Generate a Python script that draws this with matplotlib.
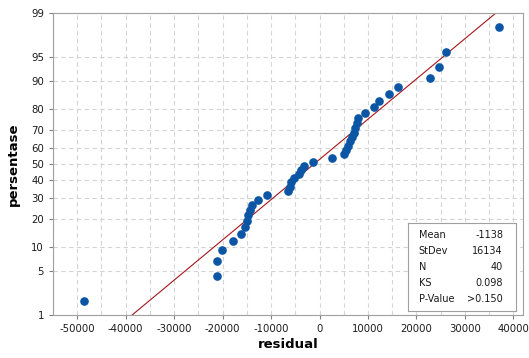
from statistics import NormalDist
import numpy as np
import matplotlib
matplotlib.use("Agg")
import matplotlib.pyplot as plt

plt.rcParams["axes.unicode_minus"] = False

# residuals (sorted)
residual = [-48570, -21200, -21150, -20140, -17760, -16270, -15370, -15040,
            -14690, -14350, -13980, -12650, -10820, -6530, -6180, -5860,
            -5310, -4290, -3820, -3120, -1430, 2650, 5040, 5370,
            5920, 6390, 6730, 7080, 7410, 7760, 7960, 9450,
            11160, 12350, 14350, 16270, 22860, 24760, 26120, 37000]

# plotting positions in percent
persen = [1.733, 4.208, 6.683, 9.158, 11.634, 14.109, 16.584, 19.059,
          21.535, 24.010, 26.485, 28.960, 31.436, 33.911, 36.386, 38.861,
          41.337, 43.812, 46.287, 48.762, 51.238, 53.713, 56.188, 58.663,
          61.139, 63.614, 66.089, 68.564, 71.040, 73.515, 75.990, 78.465,
          80.941, 83.416, 85.891, 88.366, 90.842, 93.317, 95.792, 98.267]

mean = -1138
stdev = 16134
n = 40
ks = 0.098
pval = ">0.150"

y_ticks = [1, 5, 10, 20, 30, 40, 50, 60, 70, 80, 90, 95, 99]
x_ticks = [-50000, -40000, -30000, -20000, -10000, 0, 10000, 20000, 30000, 40000]

nd = NormalDist()
def z(p):
    return nd.inv_cdf(p / 100.0)

fig = plt.figure(figsize=(5.29, 3.58), dpi=100)
ax = fig.add_axes([0.1002, 0.1201, 0.8885, 0.8436])

# fitted line
pl = np.array([1, 99])
xl = [mean + stdev * z(p) for p in pl]
ax.plot(xl, [z(p) for p in pl], color="#a4161a", lw=0.8, zorder=2)

ax.plot(residual, [z(p) for p in persen], "o", color="#0a56a5", ms=5.2,
        mec="#0a56a5", zorder=3)

ax.set_xlim(-54000, 42000)
ax.set_ylim(z(1), z(99))
ax.set_yticks([z(p) for p in y_ticks])
ax.set_yticklabels([str(p) for p in y_ticks])
ax.set_xticks(x_ticks)
ax.set_xticks(np.arange(-55000, 45000, 5000), minor=True)
ax.tick_params(axis="x", which="minor", length=0)

ax.grid(True, which="both", color="#d4d4d4", ls=(0, (4, 3)), lw=0.8)
ax.set_axisbelow(True)
for s in ax.spines.values():
    s.set_color("#a0a0a0")
ax.tick_params(which="major", color="#808080", length=3, labelsize=7.3, labelcolor="#1a1a1a")

ax.set_xlabel("residual", fontsize=9.5, fontweight="bold", labelpad=3)
ax.set_ylabel("persentase", fontsize=9.5, fontweight="bold", labelpad=8)

# stats box
bx = fig.add_axes([408 / 529, 1 - 311 / 358, 108 / 529, 88 / 358])
bx.set_xticks([]); bx.set_yticks([])
bx.set_xlim(0, 1); bx.set_ylim(0, 1)
for s in bx.spines.values():
    s.set_color("#a0a0a0")
names = ["Mean", "StDev", "N", "KS", "P-Value"]
vals = [str(mean), str(stdev), str(n), "%.3f" % ks, pval]
for i in range(5):
    yy = 0.86 - i * 0.182
    bx.text(0.10, yy, names[i], fontsize=7, va="center", ha="left", color="#1a1a1a")
    bx.text(0.88, yy, vals[i], fontsize=7, va="center", ha="right", color="#1a1a1a")

fig.savefig("out.png", dpi=100)
